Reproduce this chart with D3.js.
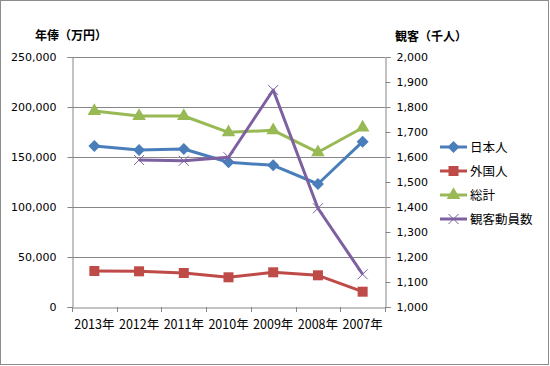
<!DOCTYPE html>
<html><head><meta charset="utf-8">
<script src="https://cdn.jsdelivr.net/npm/d3@7"></script>
<style>body{margin:0;background:#fff}svg{display:block}text{font-family:"Noto Sans CJK JP","DejaVu Sans",sans-serif}</style>
</head><body><svg id="c" width="550" height="366"></svg>
<script>
const years = ["2013年","2012年","2011年","2010年","2009年","2008年","2007年"];
const japanese = [161000,157000,158000,144700,141700,123000,165300];
const foreign = [36000,35700,34000,29700,34700,31700,15300];
const total = [196000,191000,191000,174700,176700,154700,179300];
const attendance = [null,1588,1585,1599,1868,1395,1131];
const leftTicks = [0,50000,100000,150000,200000,250000];
const rightTicks = d3.range(1000,2001,100);
const seriesNames = ["日本人","外国人","総計","観客動員数"];
const colors = ["#4A7EBB","#BE4B48","#98B954","#7D60A0"];

const svg = d3.select("#c");
svg.append("rect").attr("x",0.5).attr("y",0.5).attr("width",548).attr("height",364).attr("fill","#fff").attr("stroke","#8c8c8c");
const L=72,R=385,T=57,B=307;
const x = d3.scaleBand().domain(years).range([L,R]);
const yL = d3.scaleLinear().domain([0,250000]).range([B,T]);
const yR = d3.scaleLinear().domain([1000,2000]).range([B,T]);
const fmt = d3.format(",");

svg.append("g").selectAll("line").data(leftTicks.slice(1)).join("line")
  .attr("x1",L).attr("x2",R).attr("y1",d=>Math.round(yL(d))+0.5).attr("y2",d=>Math.round(yL(d))+0.5)
  .attr("stroke","#868686");
const ga = svg.append("g").attr("transform",`translate(${L+0.5},0)`).call(d3.axisLeft(yL).tickValues(leftTicks).tickFormat(fmt).tickSize(5).tickPadding(11));
const gr = svg.append("g").attr("transform",`translate(${R+0.5},0)`).call(d3.axisRight(yR).tickValues(rightTicks).tickFormat(fmt).tickSize(5).tickPadding(6));
const gb = svg.append("g").attr("transform",`translate(0,${B+0.5})`).call(d3.axisBottom(x).tickSize(0).tickPadding(13));
svg.append("g").selectAll("line").data(years.map(d=>x(d)).concat([R])).join("line")
  .attr("x1",d=>Math.round(d)+0.5).attr("x2",d=>Math.round(d)+0.5).attr("y1",B).attr("y2",B+5).attr("stroke","#868686");
[ga,gr,gb].forEach(g=>{g.selectAll("path,line").attr("stroke","#868686");g.selectAll("text").attr("font-size",11).attr("fill","#000").style("font-family","'DejaVu Sans',sans-serif");});
gb.selectAll("text").style("font-family","'Noto Sans CJK JP',sans-serif").attr("font-size",12.5);

svg.append("text").attr("x",35).attr("y",40).attr("font-size",12).attr("font-weight","bold").text("年俸（万円）");
svg.append("text").attr("x",395).attr("y",41).attr("font-size",12).attr("font-weight","bold").text("観客（千人）");

const cx = d=>x(d)+x.bandwidth()/2;
const data = [japanese,foreign,total];
const lineL = d3.line().defined(d=>d[1]!=null).x(d=>cx(d[0])).y(d=>yL(d[1]));
const lineR = d3.line().defined(d=>d[1]!=null).x(d=>cx(d[0])).y(d=>yR(d[1]));

function marker(g,i,px,py){
  if(i===0) g.append("path").attr("d",`M${px},${py-6}L${px+6},${py}L${px},${py+6}L${px-6},${py}Z`).attr("fill",colors[0]);
  if(i===1) g.append("rect").attr("x",px-5).attr("y",py-5).attr("width",10).attr("height",10).attr("fill",colors[1]);
  if(i===2) g.append("path").attr("d",d3.symbol(d3.symbolTriangle,80)()).attr("transform",`translate(${px},${py})`).attr("fill",colors[2]);
  if(i===3) g.append("path").attr("d",`M${px-5},${py-5}L${px+5},${py+5}M${px-5},${py+5}L${px+5},${py-5}`).attr("stroke",colors[3]).attr("stroke-width",1);
}

data.forEach((arr,i)=>{
  const pts = years.map((y,j)=>[y,arr[j]]);
  svg.append("path").datum(pts).attr("d",lineL).attr("fill","none").attr("stroke",colors[i]).attr("stroke-width",3).attr("stroke-linejoin","round");
  const g = svg.append("g");
  pts.forEach(p=>marker(g,i,cx(p[0]),yL(p[1])));
});
{
  const pts = years.map((y,j)=>[y,attendance[j]]);
  svg.append("path").datum(pts).attr("d",lineR).attr("fill","none").attr("stroke",colors[3]).attr("stroke-width",3).attr("stroke-linejoin","round");
  const g = svg.append("g");
  pts.filter(p=>p[1]!=null).forEach(p=>marker(g,3,cx(p[0]),yR(p[1])));
}

const ly = [147,171,195,219];
seriesNames.forEach((n,i)=>{
  const g = svg.append("g");
  g.append("line").attr("x1",440).attr("x2",467).attr("y1",ly[i]).attr("y2",ly[i]).attr("stroke",colors[i]).attr("stroke-width",3);
  marker(g,i,453.5,ly[i]);
  g.append("text").attr("x",470).attr("y",ly[i]+4.5).attr("font-size",12.5).text(n);
});
</script></body></html>
